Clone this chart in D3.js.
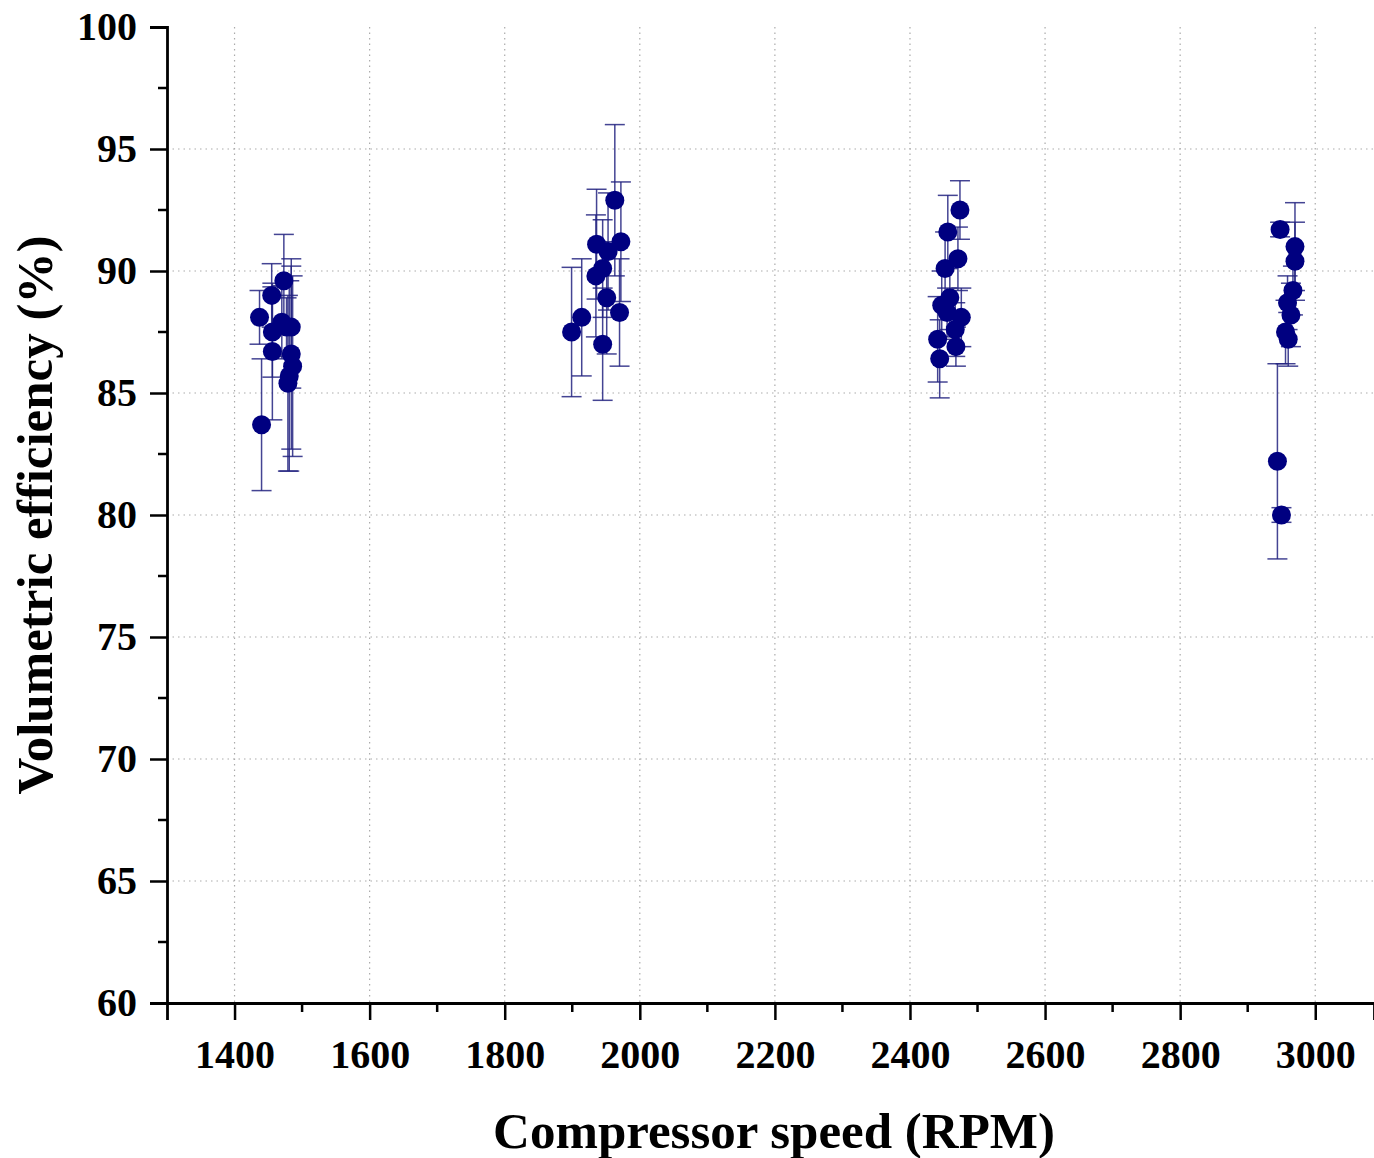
<!DOCTYPE html>
<html>
<head>
<meta charset="utf-8">
<script src="https://cdn.jsdelivr.net/npm/d3@7"></script>
<style>
  body { margin: 0; background: #fff; }
  svg { display: block; }
  .tick text { font-family: "Liberation Serif", "Times New Roman", serif; font-weight: bold; }
</style>
</head>
<body>
<svg width="1374" height="1158"></svg>
<script>
// Compressor speed (RPM) of each measurement
const speed = [
    1440, 1437, 1455, 1473, 1456, 1477, 1484, 1456, 1484, 1486, 1481, 1479, 1470,
    1899, 1914, 1945, 1963, 1936, 1953, 1972, 1970, 1951, 1935, 1945,
    2474, 2456, 2471, 2452, 2459, 2447, 2476, 2467, 2441, 2468, 2444, 2455,
    2948, 2970, 2970, 2967, 2959, 2964, 2956, 2960, 2944, 2950
];
// Volumetric efficiency (%)
const efficiency = [
    83.7, 88.1, 89.0, 89.6, 87.5, 87.7, 87.7, 86.7, 86.6, 86.1, 85.7, 85.4, 87.9,
    87.5, 88.1, 87.0, 92.9, 91.1, 90.8, 91.2, 88.3, 88.9, 89.8, 90.1,
    92.5, 91.6, 90.5, 90.1, 88.9, 88.6, 88.1, 87.6, 87.2, 86.9, 86.4, 88.3,
    91.7, 91.0, 90.4, 89.2, 88.7, 88.2, 87.5, 87.2, 82.2, 80.0
];
// +/- uncertainty
const errorBar = [
    2.7, 1.1, 1.3, 1.9, 1.85, 1.2, 2.5, 2.8, 3.9, 3.7, 3.9, 3.6, 1.5,
    2.65, 2.4, 2.3, 3.1, 2.25, 2.4, 2.45, 2.2, 2.3, 2.5, 2.0,
    1.2, 1.5, 1.3, 1.5, 1.3, 1.4, 1.2, 1.1, 1.75, 0.8, 1.6, 1.0,
    0.3, 1.8, 1.6, 1.0, 1.1, 1.3, 1.3, 1.1, 4.0, 0.3
];

const xMajor = [1400, 1600, 1800, 2000, 2200, 2400, 2600, 2800, 3000];
const xMinor = [1500, 1700, 1900, 2100, 2300, 2500, 2700, 2900];
const yMajor = [60, 65, 70, 75, 80, 85, 90, 95, 100];
const yMinor = [62.5, 67.5, 72.5, 77.5, 82.5, 87.5, 92.5, 97.5];

const points = speed.map((s, i) => ({ x: s, y: efficiency[i], e: errorBar[i] }));

const svg = d3.select("svg");
const area = { left: 167, right: 1374, top: 27, bottom: 1003 };

const scaleX = d3.scaleLinear().domain([1300, 3087]).range([area.left, area.right]);
const scaleY = d3.scaleLinear().domain([60, 100]).range([area.bottom, area.top]);

// grid
const grid = svg.append("g").attr("stroke", "#ababab").attr("stroke-width", 1.2)
    .attr("stroke-dasharray", "1.5,4");
grid.selectAll(".gx").data(xMajor).enter().append("line")
    .attr("x1", d => scaleX(d)).attr("x2", d => scaleX(d))
    .attr("y1", area.top).attr("y2", area.bottom);
grid.selectAll(".gy").data(yMajor.filter(d => d > 60 && d < 100)).enter().append("line")
    .attr("x1", area.left).attr("x2", area.right)
    .attr("y1", d => scaleY(d)).attr("y2", d => scaleY(d));

// error bars
const bars = svg.append("g").attr("stroke", "#232380").attr("stroke-width", 1.5).attr("stroke-opacity", 0.85);
points.forEach(p => {
    const cx = scaleX(p.x);
    bars.append("line").attr("x1", cx).attr("x2", cx)
        .attr("y1", scaleY(p.y - p.e)).attr("y2", scaleY(p.y + p.e));
    [p.y - p.e, p.y + p.e].forEach(v => {
        bars.append("line").attr("x1", cx - 10).attr("x2", cx + 10)
            .attr("y1", scaleY(v)).attr("y2", scaleY(v));
    });
});

// points
svg.append("g").selectAll("circle").data(points).enter().append("circle")
    .attr("cx", d => scaleX(d.x))
    .attr("cy", d => scaleY(d.y))
    .attr("r", 9.5)
    .attr("fill", "#000080");

// axes
const axisX = d3.axisBottom(scaleX).tickValues(xMajor).tickSize(17).tickPadding(20)
    .tickFormat(d3.format("d"));
const gx = svg.append("g").attr("transform", `translate(0, ${area.bottom})`).call(axisX);
gx.selectAll(".tick text").attr("font-size", 40).attr("fill", "#000");
gx.append("g").selectAll("line").data(xMinor).enter().append("line")
    .attr("x1", d => scaleX(d)).attr("x2", d => scaleX(d))
    .attr("y1", 0).attr("y2", 9);

const axisY = d3.axisLeft(scaleY).tickValues(yMajor).tickSize(17).tickPadding(13);
const gy = svg.append("g").attr("transform", `translate(${area.left}, 0)`).call(axisY);
gy.selectAll(".tick text").attr("font-size", 40).attr("fill", "#000");
gy.append("g").selectAll("line").data(yMinor).enter().append("line")
    .attr("x1", 0).attr("x2", -9)
    .attr("y1", d => scaleY(d)).attr("y2", d => scaleY(d));

[gx, gy].forEach(g => {
    g.selectAll("line").attr("stroke", "#000").attr("stroke-width", 2.5);
    g.select(".domain").attr("stroke", "#000").attr("stroke-width", 2.8);
});

// titles
svg.append("text")
    .attr("x", 774).attr("y", 1148)
    .attr("text-anchor", "middle")
    .attr("font-family", "Liberation Serif, Times New Roman, serif")
    .attr("font-weight", "bold").attr("font-size", 51)
    .text("Compressor speed (RPM)");

svg.append("text")
    .attr("transform", `translate(52, ${(area.top + area.bottom) / 2}) rotate(-90)`)
    .attr("text-anchor", "middle")
    .attr("font-family", "Liberation Serif, Times New Roman, serif")
    .attr("font-weight", "bold").attr("font-size", 51)
    .text("Volumetric efficiency (%)");
</script>
</body>
</html>
